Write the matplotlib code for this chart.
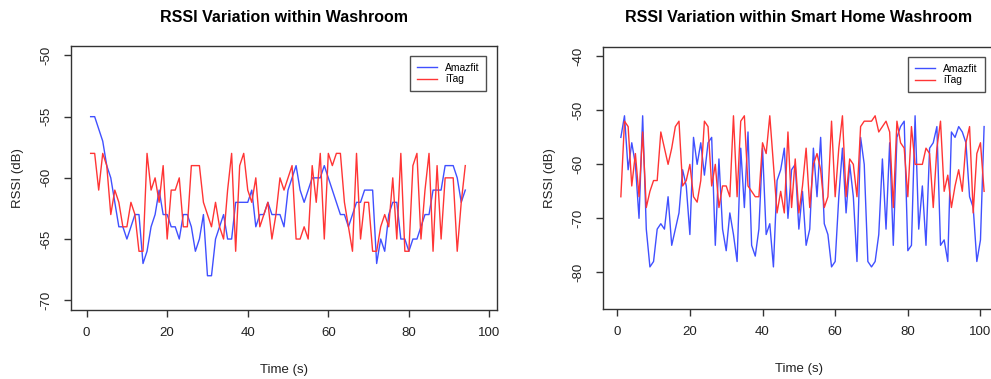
"""RSSI variation plots, washroom vs smart home washroom."""

import matplotlib
matplotlib.use("Agg")
import matplotlib.pyplot as plt

plt.rcParams["font.family"] = ["Liberation Sans", "DejaVu Sans"]
plt.rcParams["axes.unicode_minus"] = False

# washroom, 1 sample per second
wash_time = list(range(1, 95))
wash_amazfit = [
    -55, -55, -56, -57, -59, -60, -62, -64, -64, -65, -64, -63, -63, -67, -66, -64,
    -63, -61, -63, -63, -64, -64, -65, -63, -63, -64, -66, -65, -63, -68, -68, -65,
    -64, -63, -65, -65, -62, -62, -62, -62, -61, -64, -63, -63, -62, -63, -63, -63,
    -64, -61, -60, -59, -61, -62, -61, -60, -60, -60, -59, -60, -61, -62, -63, -63,
    -64, -63, -62, -62, -61, -61, -61, -67, -65, -66, -63, -62, -62, -65, -65, -66,
    -65, -65, -64, -63, -63, -61, -61, -61, -59, -59, -59, -60, -62, -61,
]
wash_itag = [
    -58, -58, -61, -58, -59, -63, -61, -62, -64, -64, -62, -63, -66, -66, -58, -61,
    -60, -62, -59, -65, -61, -61, -60, -64, -64, -59, -59, -59, -62, -63, -64, -62,
    -64, -65, -61, -58, -66, -59, -58, -61, -62, -60, -64, -63, -62, -65, -63, -60,
    -61, -60, -59, -65, -65, -64, -65, -59, -62, -58, -65, -58, -59, -58, -58, -62,
    -64, -66, -58, -65, -62, -62, -66, -66, -64, -63, -64, -60, -65, -58, -66, -66,
    -59, -58, -65, -61, -58, -66, -59, -65, -60, -60, -60, -66, -62, -59,
]

# smart home washroom
home_time = list(range(1, 102))
home_amazfit = [
    -55, -51, -61, -56, -60, -70, -51, -72, -79, -78, -72, -71, -72, -66, -75, -72,
    -69, -61, -64, -73, -55, -60, -56, -62, -56, -55, -75, -59, -72, -76, -69, -73,
    -78, -57, -68, -54, -75, -77, -72, -57, -73, -71, -79, -63, -61, -57, -70, -61,
    -60, -72, -65, -75, -72, -57, -66, -55, -71, -73, -79, -78, -66, -57, -69, -60,
    -66, -78, -55, -60, -78, -79, -78, -73, -59, -72, -56, -75, -55, -53, -52, -76,
    -75, -51, -72, -64, -75, -57, -56, -53, -75, -74, -78, -54, -55, -53, -54, -56,
    -66, -68, -78, -74, -53,
]
home_itag = [
    -66, -52, -53, -64, -58, -66, -54, -68, -65, -63, -63, -54, -57, -60, -57, -53,
    -52, -64, -63, -60, -66, -67, -63, -52, -53, -64, -60, -68, -64, -64, -66, -51,
    -66, -52, -51, -64, -65, -66, -66, -56, -58, -51, -60, -69, -65, -69, -54, -68,
    -59, -69, -64, -57, -68, -60, -58, -61, -68, -66, -52, -66, -57, -51, -66, -59,
    -60, -66, -53, -52, -52, -52, -51, -54, -53, -52, -54, -68, -52, -56, -57, -66,
    -53, -60, -60, -60, -57, -58, -68, -57, -52, -65, -62, -68, -64, -61, -65, -56,
    -53, -69, -58, -56, -65,
]

BLUE = "#4050ff"
RED = "#ff3535"
AXIS = "#333333"

W, H = 991, 379
fig = plt.figure(figsize=(W / 100, H / 100), dpi=100)


def px_axes(left, top, right, bottom):
    return fig.add_axes([left / W, 1 - bottom / H, (right - left) / W, (bottom - top) / H])


def style_r(ax, title, yticks, xlim, ylim):
    ax.set_xlim(*xlim)
    ax.set_ylim(*ylim)
    ax.set_xticks([0, 20, 40, 60, 80, 100])
    ax.set_yticks(yticks)
    for side in ax.spines.values():
        side.set_color(AXIS)
        side.set_linewidth(1.0)
    ax.tick_params(direction="out", length=5, width=1.0, color=AXIS, labelsize=9.5,
                   labelcolor="#222222")
    ax.tick_params(axis="x", pad=7)
    ax.tick_params(axis="y", pad=8)
    for lab in ax.get_yticklabels():
        lab.set_rotation(90)
        lab.set_va("center")
    ax.set_xlabel("Time (s)", fontsize=9.5, labelpad=18, color="#222222")
    ax.set_ylabel("RSSI (dB)", fontsize=9.5, labelpad=12, color="#222222")
    bb = ax.get_position()
    fig.text((bb.x0 + bb.x1) / 2, 1 - 17 / H, title, ha="center", va="center",
             fontsize=11.5, fontweight="bold")
    leg = ax.legend(loc="upper right", fontsize=7.5, frameon=True, fancybox=False,
                    borderaxespad=1.0, handlelength=1.9, borderpad=0.65,
                    labelspacing=0.15, handletextpad=0.8)
    leg.get_frame().set_edgecolor("#222222")
    leg.get_frame().set_linewidth(1.0)


ax1 = px_axes(70.7, 45.7, 496.7, 310)
ax1.plot(wash_time, wash_amazfit, color=BLUE, lw=1.0, label="Amazfit")
ax1.plot(wash_time, wash_itag, color=RED, lw=1.0, label="iTag")
style_r(ax1, "RSSI Variation within Washroom", [-70, -65, -60, -55, -50],
        (-3.95, 101.8), (-70.8, -49.2))

ax2 = px_axes(602.7, 46.7, 995, 309)
ax2.plot(home_time, home_amazfit, color=BLUE, lw=1.0, label="Amazfit")
ax2.plot(home_time, home_itag, color=RED, lw=1.0, label="iTag")
style_r(ax2, "RSSI Variation within Smart Home Washroom", [-80, -70, -60, -50, -40],
        (-4, 104), (-86.8, -38.2))

fig.savefig("out.png", dpi=100)
